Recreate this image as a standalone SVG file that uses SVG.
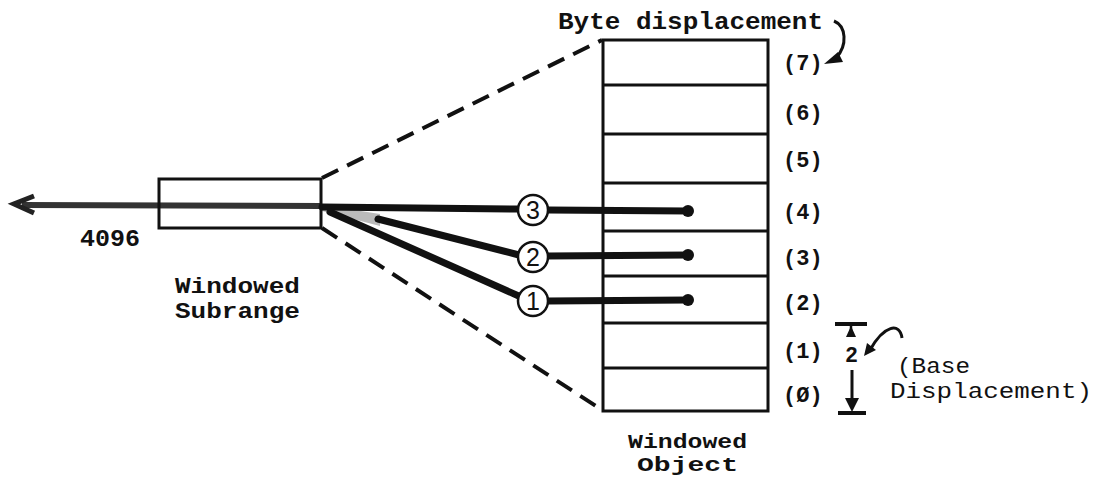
<svg xmlns="http://www.w3.org/2000/svg" width="1102" height="481" viewBox="0 0 1102 481">
<style>
.t{font-family:"Liberation Mono","DejaVu Sans Mono",monospace;fill:#111}
.b{font-weight:bold}
.lbl{font-family:"Liberation Mono",monospace;font-weight:bold;font-size:22px;fill:#111}
.box{fill:none;stroke:#111;stroke-width:3}
.dash{fill:none;stroke:#111;stroke-width:4;stroke-dasharray:18 10}
.thick{stroke:#111;stroke-width:7;stroke-linecap:round;fill:none}
.circ{fill:#fff;stroke:#111;stroke-width:2.5}
.num{font-family:"Liberation Sans",Arial,sans-serif;font-size:25px;fill:#111;text-anchor:middle}
.thin{stroke:#111;stroke-width:3;fill:none}
</style>
<rect width="1102" height="481" fill="#fff"/>
<g id="connectors">
  <line class="dash" x1="322" y1="178" x2="602" y2="40"/>
  <line class="dash" x1="322" y1="228" x2="602" y2="410"/>
  <line x1="22" y1="205" x2="322" y2="206" stroke="#333" stroke-width="6"/>
  <polyline points="34,196 14,204 34,213" fill="none" stroke="#222" stroke-width="5" stroke-linejoin="miter"/>
  <polygon points="322,205 380,214 380,226 322,211" fill="#bbb"/>
  <line class="thick" x1="322" y1="207" x2="519" y2="209"/>
  <line class="thick" x1="378" y1="219" x2="519" y2="255"/>
  <line class="thick" x1="330" y1="212" x2="521" y2="297"/>
  <line class="thick" x1="548" y1="210" x2="688" y2="211"/>
  <line class="thick" x1="548" y1="256" x2="688" y2="255"/>
  <line class="thick" x1="548" y1="301" x2="688" y2="300"/>
  <circle cx="688" cy="211" r="6" fill="#111"/>
  <circle cx="688" cy="255" r="6" fill="#111"/>
  <circle cx="688" cy="300" r="6" fill="#111"/>
</g>
<g id="subrange">
  <rect class="box" x="159" y="179" width="162" height="49"/>
  <text class="t b" x="80" y="246" font-size="24" textLength="60" lengthAdjust="spacingAndGlyphs">4096</text>
  <text class="t b" x="175" y="293" font-size="22" textLength="125" lengthAdjust="spacingAndGlyphs">Windowed</text>
  <text class="t b" x="175" y="318" font-size="22" textLength="125" lengthAdjust="spacingAndGlyphs">Subrange</text>
</g>
<g id="circle3"><circle class="circ" cx="533" cy="210" r="15"/><text class="num" x="533" y="219">3</text></g>
<g id="circle2"><circle class="circ" cx="533" cy="257" r="15"/><text class="num" x="533" y="266">2</text></g>
<g id="circle1"><circle class="circ" cx="533" cy="301" r="15"/><text class="num" x="533" y="310">1</text></g>
<g id="object">
  <rect class="box" x="603" y="40" width="165" height="371"/>
  <line class="thin" x1="603" y1="85" x2="768" y2="85"/>
  <line class="thin" x1="603" y1="134" x2="768" y2="134"/>
  <line class="thin" x1="603" y1="183" x2="768" y2="183"/>
  <line class="thin" x1="603" y1="231" x2="768" y2="231"/>
  <line class="thin" x1="603" y1="276" x2="768" y2="276"/>
  <line class="thin" x1="603" y1="323" x2="768" y2="323"/>
  <line class="thin" x1="603" y1="368" x2="768" y2="368"/>
  <text class="t b" x="628" y="448" font-size="20" textLength="119" lengthAdjust="spacingAndGlyphs">Windowed</text>
  <text class="t b" x="637" y="471" font-size="20" textLength="101" lengthAdjust="spacingAndGlyphs">Object</text>
</g>
<g id="row-labels">
  <text class="lbl" x="783" y="70">(7)</text>
  <text class="lbl" x="783" y="120">(6)</text>
  <text class="lbl" x="783" y="167">(5)</text>
  <text class="lbl" x="783" y="219">(4)</text>
  <text class="lbl" x="783" y="265">(3)</text>
  <text class="lbl" x="783" y="310">(2)</text>
  <text class="lbl" x="783" y="358">(1)</text>
  <text class="lbl" x="783" y="402">(Ø)</text>
</g>
<g id="byte-displacement">
  <text class="t b" x="558" y="29" font-size="24" textLength="265" lengthAdjust="spacingAndGlyphs">Byte displacement</text>
  <path d="M834,21 C846,26 848,45 836,58" class="thin" stroke-width="3"/>
  <polygon points="824,64 838,52 843,62" fill="#111"/>
</g>
<g id="base-displacement">
  <line x1="835" y1="324" x2="867" y2="324" stroke="#111" stroke-width="4"/>
  <line x1="851" y1="324" x2="851" y2="335" stroke="#111" stroke-width="2.5"/>
  <polygon points="851,326 846,337 856,337" fill="#111"/>
  <text class="t b" x="845" y="362" font-size="22" textLength="13" lengthAdjust="spacingAndGlyphs">2</text>
  <line x1="852" y1="370" x2="852" y2="402" stroke="#111" stroke-width="3"/>
  <polygon points="852,412 845,398 859,398" fill="#111"/>
  <line x1="838" y1="413" x2="866" y2="413" stroke="#111" stroke-width="4"/>
  <path d="M902,338 C900,322 884,325 870,350" class="thin" stroke-width="2.5"/>
  <polygon points="864,356 867,343 876,350" fill="#111"/>
  <text class="t" x="897" y="373" font-size="22" textLength="73" lengthAdjust="spacingAndGlyphs">(Base</text>
  <text class="t" x="890" y="398" font-size="22" textLength="202" lengthAdjust="spacingAndGlyphs">Displacement)</text>
</g>
</svg>
